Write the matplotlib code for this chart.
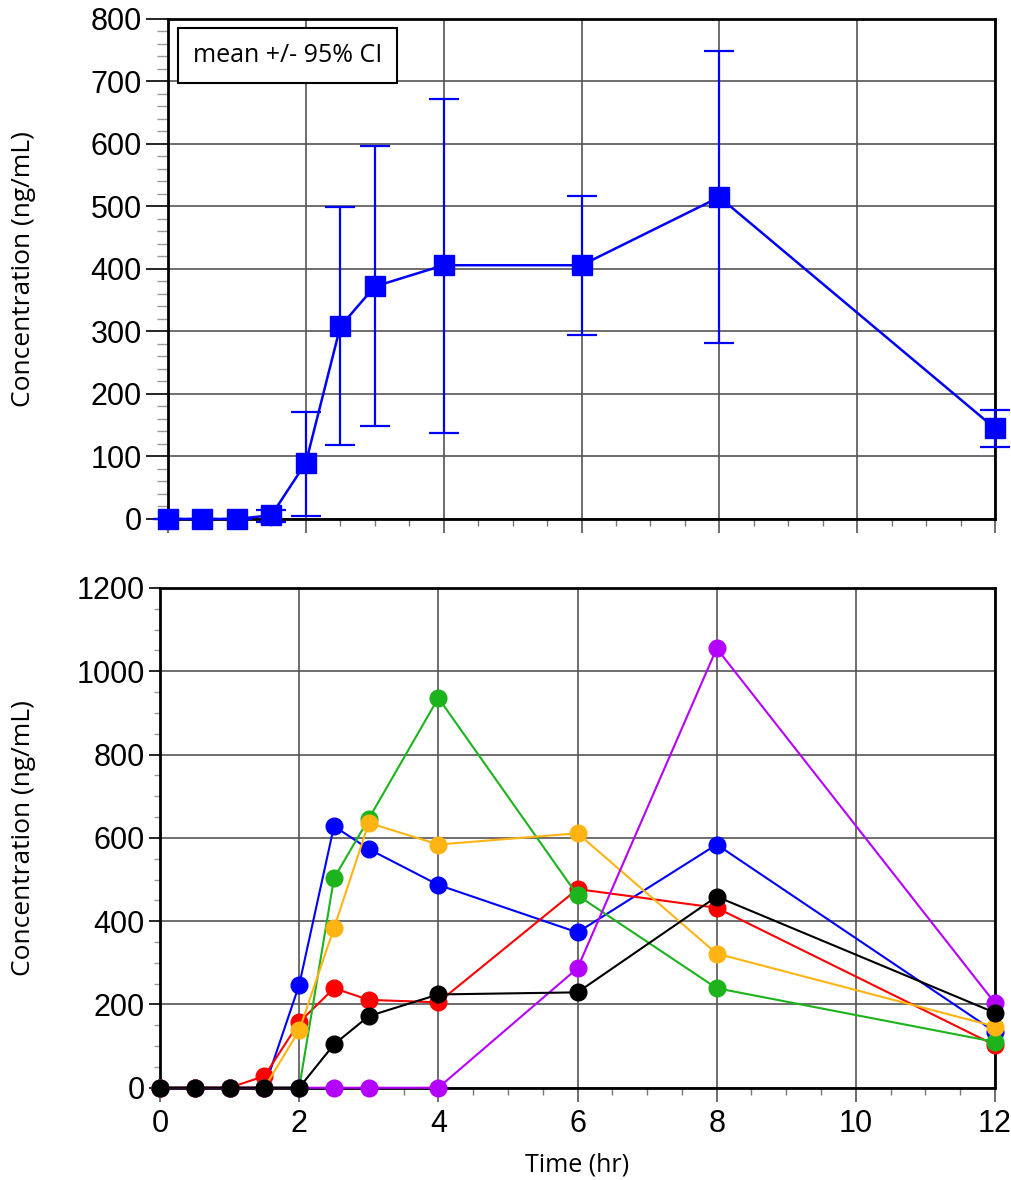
import matplotlib.pyplot as plt
import numpy as np
from matplotlib.ticker import MultipleLocator

# mean +/- 95% CI (top panel)
mean_t = [0, 0.5, 1, 1.5, 2, 2.5, 3, 4, 6, 8, 12]
mean_c = [0, 0, 0, 6, 90, 308, 372, 406, 406, 515, 145]
ci_lo = [0, 0, 0, -5, 5, 118, 149, 138, 294, 282, 115]
ci_hi = [0, 0, 0, 14, 171, 499, 596, 672, 516, 749, 174]

# individual subjects (bottom panel)
time = [0, 0.5, 1, 1.5, 2, 2.5, 3, 4, 6, 8, 12]
subj_blue = [0, 0, 0, 0, 247, 628, 573, 487, 373, 584, 134]
subj_red = [0, 0, 0, 28, 157, 239, 211, 205, 477, 432, 102]
subj_green = [0, 0, 0, 0, 0, 503, 646, 936, 462, 239, 110]
subj_orange = [0, 0, 0, 0, 138, 383, 636, 584, 611, 322, 147]
subj_purple = [0, 0, 0, 0, 0, 0, 0, 0, 287, 1055, 203]
subj_black = [0, 0, 0, 0, 0, 104, 172, 224, 229, 459, 180]

series = [
    (subj_blue, '#0000ff'),
    (subj_red, '#ff0000'),
    (subj_green, '#1db31d'),
    (subj_orange, '#ffb414'),
    (subj_purple, '#b400ff'),
    (subj_black, '#000000'),
]

plt.rcParams['font.family'] = ['Liberation Sans', 'DejaVu Sans']
label_font = ['Open Sans', 'DejaVu Sans']

fig = plt.figure(figsize=(10.11, 11.8), dpi=100)
ax1 = fig.add_axes([0.1662, 0.5602, 0.8180, 0.4237])
ax2 = fig.add_axes([0.1583, 0.0782, 0.8259, 0.4235])


def style_axes(ax, ymax, ymajor, yminor, label_x, ytick_len):
    ax.set_xlim(0, 12)
    ax.set_ylim(0, ymax)
    ax.xaxis.set_major_locator(MultipleLocator(2))
    ax.xaxis.set_minor_locator(MultipleLocator(0.5))
    ax.yaxis.set_major_locator(MultipleLocator(ymajor))
    ax.yaxis.set_minor_locator(MultipleLocator(yminor))
    ax.grid(True, which='major', color='#555555', linewidth=1.2)
    ax.set_axisbelow(True)
    for s in ax.spines.values():
        s.set_linewidth(2)
        s.set_color('black')
        s.set_zorder(5)
    ax.tick_params(axis='y', which='major', direction='out', length=ytick_len,
                   width=1.2, labelsize=22, pad=3)
    ax.tick_params(axis='y', which='minor', direction='out', length=ytick_len / 2,
                   width=1, color='#999999')
    ax.tick_params(axis='x', which='major', direction='out', length=10, width=1.2,
                   color='#555555', labelsize=22, pad=5)
    ax.tick_params(axis='x', which='minor', direction='out', length=5, width=1,
                   color='#777777')
    ax.set_ylabel('Concentration (ng/mL)', fontsize=19, family=label_font)
    ax.yaxis.set_label_coords(label_x, 0.5)


# top panel
style_axes(ax1, 800, 100, 20, -0.160, 16)
ax1.tick_params(axis='x', labelbottom=False)
err = [np.array(mean_c) - np.array(ci_lo), np.array(ci_hi) - np.array(mean_c)]
ax1.errorbar(mean_t, mean_c, yerr=err, color='#0000ff', linewidth=1.8,
             elinewidth=1.6, capsize=11, capthick=1.6, marker='s', markersize=14,
             clip_on=False, zorder=6)
ax1.text(0.36, 742, 'mean +/- 95% CI', fontsize=18, family=label_font,
         va='center', ha='left',
         bbox=dict(boxstyle='square,pad=0.6', facecolor='white',
                   edgecolor='black', linewidth=1.5))

# bottom panel
style_axes(ax2, 1200, 200, 50, -0.1485, 8)
for vals, col in series:
    ax2.plot(time, vals, color=col, linewidth=1.5, marker='o', markersize=12,
             clip_on=False, zorder=6)
ax2.set_xlabel('Time (hr)', fontsize=18, family=label_font, labelpad=10)

fig.savefig('out.png', dpi=100)
